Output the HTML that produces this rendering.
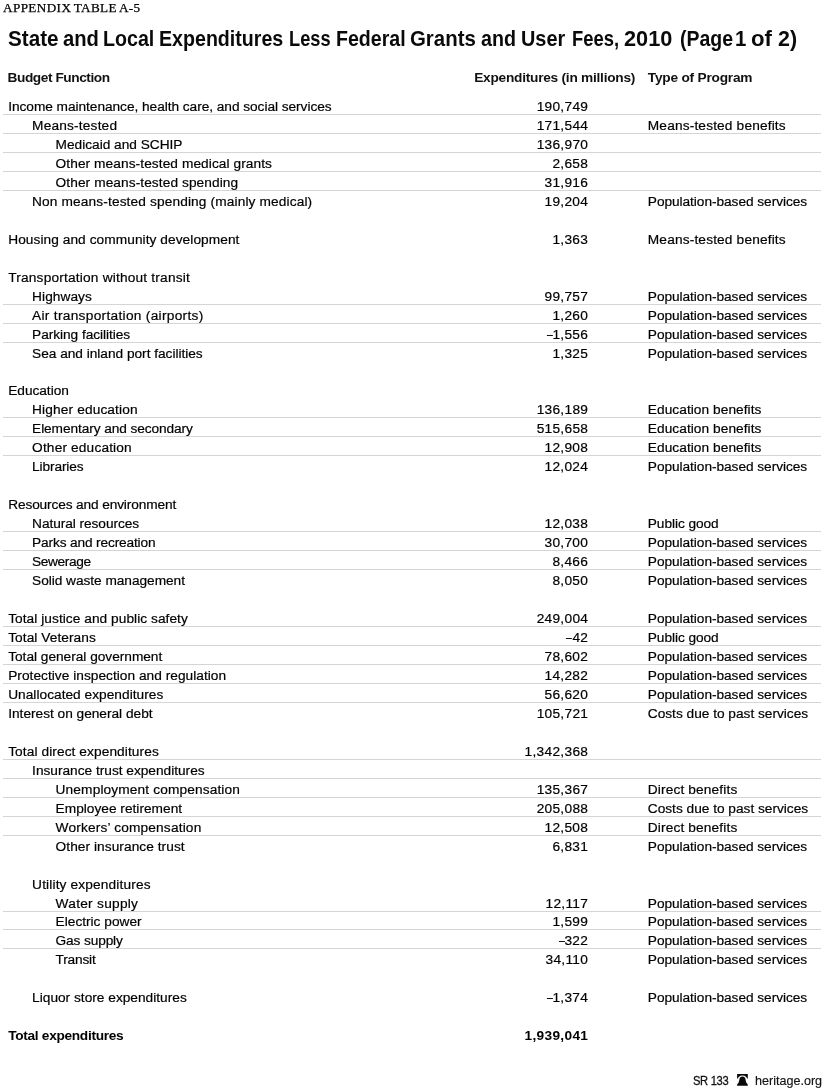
<!DOCTYPE html>
<html lang="en"><head><meta charset="utf-8"><title>Appendix Table A-5</title>
<style>
html,body{margin:0;padding:0;background:#fff;}
body{width:825px;height:1091px;position:relative;overflow:hidden;font-family:"Liberation Sans",sans-serif;color:#000;}
.ap{position:absolute;left:2.5px;top:1px;font-family:"Liberation Serif",serif;font-size:12.2px;line-height:15px;letter-spacing:0.37px;word-spacing:-1px;color:#000;white-space:nowrap;transform:scaleX(1.08);transform-origin:0 0;-webkit-text-stroke:0.25px #000;}
h1{position:absolute;left:0;top:24px;margin:0;width:825px;height:28px;font-size:22.8px;line-height:28px;font-weight:bold;white-space:nowrap;color:#0a0a0a;}
h1 span{position:absolute;top:0;transform-origin:0 0;}
.h{position:absolute;top:68px;font-size:13.7px;line-height:19px;font-weight:bold;white-space:nowrap;color:#111;}
.r{position:absolute;left:0;width:825px;height:19px;-webkit-text-stroke:0.2px #000;font-size:13.7px;line-height:19px;white-space:nowrap;}
.ln{position:absolute;left:3px;width:818px;height:1px;background:#d3d5d8;}
.r.b{font-weight:bold;-webkit-text-stroke:0;}
.r span{position:absolute;top:0;}
.n.i0{left:8.2px} .n.i1{left:32.1px} .n.i2{left:55.6px}
.v{right:236.8px;text-align:right;letter-spacing:0.3px;}
.t{left:647.8px;}
.d{display:inline-block;font-style:normal;transform:scaleX(0.76);transform-origin:100% 50%;}
.ft{position:absolute;top:1071px;font-size:13px;line-height:19px;white-space:nowrap;color:#111;}
</style></head><body>
<div class="ap">APPENDIX TABLE A-5</div>
<h1><span style="left:7.62px;transform:scaleX(0.9061)">State</span> <span style="left:62.84px;transform:scaleX(0.8859)">and</span> <span style="left:102.51px;transform:scaleX(0.861)">Local</span> <span style="left:158.67px;transform:scaleX(0.8604)">Expenditures</span> <span style="left:288.8px;transform:scaleX(0.7991)">Less</span> <span style="left:335.69px;transform:scaleX(0.8592)">Federal</span> <span style="left:409.5px;transform:scaleX(0.8952)">Grants</span> <span style="left:481.0px;transform:scaleX(0.8631)">and</span> <span style="left:521.35px;transform:scaleX(0.8715)">User</span> <span style="left:572.03px;transform:scaleX(0.8062)">Fees,</span> <span style="left:624.12px;transform:scaleX(0.953)">2010</span> <span style="left:680.05px;transform:scaleX(0.8543)">(Page</span> <span style="left:735.32px;transform:scaleX(0.8947)">1</span> <span style="left:750.9px;transform:scaleX(0.9746)">of</span> <span style="left:778.21px;transform:scaleX(0.938)">2)</span></h1>
<div class="h" style="left:7.6px;letter-spacing:-0.443px">Budget Function</div>
<div class="h" style="right:189.9px;letter-spacing:-0.248px">Expenditures (in millions)</div>
<div class="h" style="left:647.8px;letter-spacing:-0.214px">Type of Program</div>
<div class="r" style="top:97px"><span class="n i0" style="letter-spacing:-0.043px">Income maintenance, health care, and social services</span><span class="v">190,749</span></div>
<div class="ln" style="top:114px"></div>
<div class="r" style="top:116px"><span class="n i1" style="letter-spacing:0.182px">Means-tested</span><span class="v">171,544</span><span class="t" style="letter-spacing:0.160px">Means-tested benefits</span></div>
<div class="ln" style="top:133px"></div>
<div class="r" style="top:135px"><span class="n i2" style="letter-spacing:-0.012px">Medicaid and SCHIP</span><span class="v">136,970</span></div>
<div class="ln" style="top:152px"></div>
<div class="r" style="top:154px"><span class="n i2" style="letter-spacing:0.081px">Other means-tested medical grants</span><span class="v">2,658</span></div>
<div class="ln" style="top:171px"></div>
<div class="r" style="top:173px"><span class="n i2" style="letter-spacing:0.085px">Other means-tested spending</span><span class="v">31,916</span></div>
<div class="ln" style="top:190px"></div>
<div class="r" style="top:192px"><span class="n i1" style="letter-spacing:0.132px">Non means-tested spending (mainly medical)</span><span class="v">19,204</span><span class="t" style="letter-spacing:-0.050px">Population-based services</span></div>
<div class="r" style="top:230px"><span class="n i0" style="letter-spacing:0.069px">Housing and community development</span><span class="v">1,363</span><span class="t" style="letter-spacing:0.160px">Means-tested benefits</span></div>
<div class="r" style="top:268px"><span class="n i0" style="letter-spacing:0.193px">Transportation without transit</span></div>
<div class="r" style="top:287px"><span class="n i1" style="letter-spacing:0.057px">Highways</span><span class="v">99,757</span><span class="t" style="letter-spacing:-0.050px">Population-based services</span></div>
<div class="ln" style="top:304px"></div>
<div class="r" style="top:306px"><span class="n i1" style="letter-spacing:0.300px">Air transportation (airports)</span><span class="v">1,260</span><span class="t" style="letter-spacing:-0.050px">Population-based services</span></div>
<div class="ln" style="top:323px"></div>
<div class="r" style="top:325px"><span class="n i1" style="letter-spacing:-0.047px">Parking facilities</span><span class="v"><i class="d">–</i>1,556</span><span class="t" style="letter-spacing:-0.050px">Population-based services</span></div>
<div class="ln" style="top:342px"></div>
<div class="r" style="top:344px"><span class="n i1" style="letter-spacing:-0.021px">Sea and inland port facilities</span><span class="v">1,325</span><span class="t" style="letter-spacing:-0.050px">Population-based services</span></div>
<div class="r" style="top:381px"><span class="n i0" style="letter-spacing:-0.025px">Education</span></div>
<div class="r" style="top:400px"><span class="n i1" style="letter-spacing:0.133px">Higher education</span><span class="v">136,189</span><span class="t" style="letter-spacing:0.059px">Education benefits</span></div>
<div class="ln" style="top:417px"></div>
<div class="r" style="top:419px"><span class="n i1" style="letter-spacing:-0.087px">Elementary and secondary</span><span class="v">515,658</span><span class="t" style="letter-spacing:0.059px">Education benefits</span></div>
<div class="ln" style="top:436px"></div>
<div class="r" style="top:438px"><span class="n i1" style="letter-spacing:0.157px">Other education</span><span class="v">12,908</span><span class="t" style="letter-spacing:0.059px">Education benefits</span></div>
<div class="ln" style="top:455px"></div>
<div class="r" style="top:457px"><span class="n i1" style="letter-spacing:-0.125px">Libraries</span><span class="v">12,024</span><span class="t" style="letter-spacing:-0.050px">Population-based services</span></div>
<div class="r" style="top:495px"><span class="n i0" style="letter-spacing:-0.133px">Resources and environment</span></div>
<div class="r" style="top:514px"><span class="n i1" style="letter-spacing:-0.062px">Natural resources</span><span class="v">12,038</span><span class="t" style="letter-spacing:-0.060px">Public good</span></div>
<div class="ln" style="top:531px"></div>
<div class="r" style="top:533px"><span class="n i1" style="letter-spacing:-0.147px">Parks and recreation</span><span class="v">30,700</span><span class="t" style="letter-spacing:-0.050px">Population-based services</span></div>
<div class="ln" style="top:550px"></div>
<div class="r" style="top:552px"><span class="n i1" style="letter-spacing:-0.371px">Sewerage</span><span class="v">8,466</span><span class="t" style="letter-spacing:-0.050px">Population-based services</span></div>
<div class="ln" style="top:569px"></div>
<div class="r" style="top:571px"><span class="n i1" style="letter-spacing:-0.038px">Solid waste management</span><span class="v">8,050</span><span class="t" style="letter-spacing:-0.050px">Population-based services</span></div>
<div class="r" style="top:609px"><span class="n i0" style="letter-spacing:0.053px">Total justice and public safety</span><span class="v">249,004</span><span class="t" style="letter-spacing:-0.050px">Population-based services</span></div>
<div class="ln" style="top:626px"></div>
<div class="r" style="top:628px"><span class="n i0" style="letter-spacing:0.062px">Total Veterans</span><span class="v"><i class="d">–</i>42</span><span class="t" style="letter-spacing:-0.060px">Public good</span></div>
<div class="ln" style="top:645px"></div>
<div class="r" style="top:647px"><span class="n i0" style="letter-spacing:-0.017px">Total general government</span><span class="v">78,602</span><span class="t" style="letter-spacing:-0.050px">Population-based services</span></div>
<div class="ln" style="top:664px"></div>
<div class="r" style="top:666px"><span class="n i0" style="letter-spacing:0.029px">Protective inspection and regulation</span><span class="v">14,282</span><span class="t" style="letter-spacing:-0.050px">Population-based services</span></div>
<div class="ln" style="top:683px"></div>
<div class="r" style="top:685px"><span class="n i0" style="letter-spacing:0.026px">Unallocated expenditures</span><span class="v">56,620</span><span class="t" style="letter-spacing:-0.050px">Population-based services</span></div>
<div class="ln" style="top:702px"></div>
<div class="r" style="top:704px"><span class="n i0" style="letter-spacing:-0.009px">Interest on general debt</span><span class="v">105,721</span><span class="t" style="letter-spacing:-0.008px">Costs due to past services</span></div>
<div class="r" style="top:742px"><span class="n i0" style="letter-spacing:0.092px">Total direct expenditures</span><span class="v">1,342,368</span></div>
<div class="ln" style="top:759px"></div>
<div class="r" style="top:761px"><span class="n i1" style="letter-spacing:-0.007px">Insurance trust expenditures</span></div>
<div class="ln" style="top:778px"></div>
<div class="r" style="top:780px"><span class="n i2" style="letter-spacing:0.133px">Unemployment compensation</span><span class="v">135,367</span><span class="t" style="letter-spacing:0.143px">Direct benefits</span></div>
<div class="ln" style="top:797px"></div>
<div class="r" style="top:799px"><span class="n i2" style="letter-spacing:0.011px">Employee retirement</span><span class="v">205,088</span><span class="t" style="letter-spacing:-0.008px">Costs due to past services</span></div>
<div class="ln" style="top:816px"></div>
<div class="r" style="top:818px"><span class="n i2" style="letter-spacing:0.170px">Workers’ compensation</span><span class="v">12,508</span><span class="t" style="letter-spacing:0.143px">Direct benefits</span></div>
<div class="ln" style="top:835px"></div>
<div class="r" style="top:837px"><span class="n i2" style="letter-spacing:0.060px">Other insurance trust</span><span class="v">6,831</span><span class="t" style="letter-spacing:-0.050px">Population-based services</span></div>
<div class="r" style="top:875px"><span class="n i1" style="letter-spacing:0.147px">Utility expenditures</span></div>
<div class="r" style="top:894px"><span class="n i2" style="letter-spacing:0.273px">Water supply</span><span class="v">12,117</span><span class="t" style="letter-spacing:-0.050px">Population-based services</span></div>
<div class="ln" style="top:911px"></div>
<div class="r" style="top:912px"><span class="n i2">Electric power</span><span class="v">1,599</span><span class="t" style="letter-spacing:-0.050px">Population-based services</span></div>
<div class="ln" style="top:929px"></div>
<div class="r" style="top:931px"><span class="n i2" style="letter-spacing:-0.133px">Gas supply</span><span class="v"><i class="d">–</i>322</span><span class="t" style="letter-spacing:-0.050px">Population-based services</span></div>
<div class="ln" style="top:948px"></div>
<div class="r" style="top:950px"><span class="n i2" style="letter-spacing:-0.200px">Transit</span><span class="v">34,110</span><span class="t" style="letter-spacing:-0.050px">Population-based services</span></div>
<div class="r" style="top:988px"><span class="n i1" style="letter-spacing:0.008px">Liquor store expenditures</span><span class="v"><i class="d">–</i>1,374</span><span class="t" style="letter-spacing:-0.050px">Population-based services</span></div>
<div class="r b" style="top:1026px"><span class="n i0" style="letter-spacing:-0.306px">Total expenditures</span><span class="v">1,939,041</span></div>
<div class="ft" style="left:693.4px;font-size:13.6px;letter-spacing:-0.4px;transform:scaleX(0.822);transform-origin:0 0;-webkit-text-stroke:0.3px #111">SR 133</div>
<svg style="position:absolute;left:736px;top:1074px" width="13" height="13" viewBox="0 0 13 13"><rect x="1.1" y="0" width="10.7" height="4.7" fill="#0a0a0a"/><ellipse cx="6.45" cy="6.6" rx="5.24" ry="5" fill="#fff"/><path d="M6.45 2.6C4.6 2.6 3.7 3.8 3.45 5.1C3.1 7 2.9 8 2.6 8.6C2.3 9.4 1.6 10 1.1 10.5V11.8H11.8V10.5C11.3 10 10.6 9.4 10.3 8.6C10 8 9.8 7 9.45 5.1C9.2 3.8 8.3 2.6 6.45 2.6Z" fill="#0a0a0a"/></svg>
<div class="ft" style="left:754.8px;font-size:13.3px;transform:scaleX(0.945);transform-origin:0 0;-webkit-text-stroke:0.15px #111">heritage.org</div>
</body></html>
